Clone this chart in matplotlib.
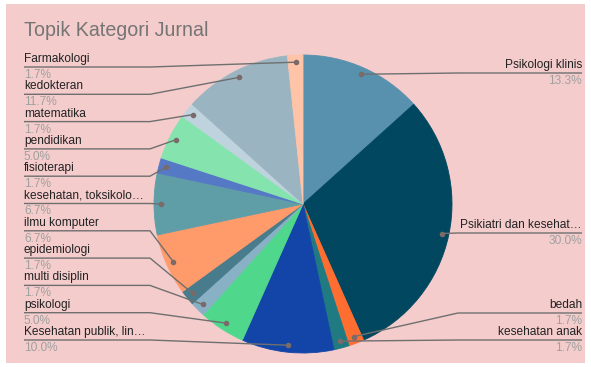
import numpy as np
import matplotlib
matplotlib.use("Agg")
import matplotlib.pyplot as plt
from matplotlib.patches import Rectangle

# slices, clockwise from 12 o'clock
labels = ["Psikologi klinis", "Psikiatri dan kesehat…", "bedah", "kesehatan anak",
          "Kesehatan publik, lin…", "psikologi", "multi disiplin", "epidemiologi",
          "ilmu komputer", "kesehatan, toksikolo…", "fisioterapi", "pendidikan",
          "matematika", "kedokteran", "Farmakologi"]
counts = [8, 18, 1, 1, 6, 3, 1, 1, 4, 4, 1, 3, 1, 7, 1]
pct_text = ["13.3%", "30.0%", "1.7%", "1.7%", "10.0%", "5.0%", "1.7%", "1.7%",
            "6.7%", "6.7%", "1.7%", "5.0%", "1.7%", "11.7%", "1.7%"]
colors = ["#5891ae", "#01475f", "#ff6d31", "#1f7a81", "#1345a9", "#4fd88b",
          "#89b1c6", "#487b8c", "#ff9a6a", "#5f9ea7", "#5679c6", "#85e4ae",
          "#bfd3de", "#9ab5c1", "#ffc4a8"]

W, H = 591, 367
fig = plt.figure(figsize=(W / 100, H / 100), dpi=100, facecolor="white")
ax = fig.add_axes([0, 0, 1, 1])

def py(y):  # pixel row -> data y
    return H - y

ax.add_patch(Rectangle((6, py(363)), 579, 359, facecolor="#f4cccc", edgecolor="none", zorder=0))

cx, cy, r = 303, 204, 149
wedges, _ = ax.pie(counts, colors=colors, startangle=90, counterclock=False,
                   center=(cx, py(cy)), radius=r, frame=True,
                   wedgeprops=dict(linewidth=0.6, antialiased=True))
for w, c in zip(wedges, colors):
    w.set_edgecolor(c)
    w.set_zorder(2)
ax.set_xlim(0, W)
ax.set_ylim(0, H)
ax.set_aspect("equal")
ax.axis("off")

ax.text(24, py(31), "Topik Kategori Jurnal", fontsize=14.1, color="#757575",
        family="Liberation Sans", va="center", ha="left")

left_idx = [14, 13, 12, 11, 10, 9, 8, 7, 6, 5, 4]
right_idx = [0, 1, 2, 3]
right_y = [73, 233, 313, 340]
left_y = [67 + 27.3 * k for k in range(len(left_idx))]

line_col = "#6f6f6f"
fs = 8.6

def dot_pos(i):
    total = sum(counts)
    mid = (sum(counts[:i]) + counts[i] / 2) / total * 2 * np.pi
    rr = r * 0.953
    return cx + rr * np.sin(mid), py(cy) + rr * np.cos(mid)

def draw_label(i, ly, side):
    dx, dy = dot_pos(i)
    if side == "left":
        xs = [24, 150, dx]
        tx, ha = 24, "left"
    else:
        xs = [582, 458, dx]
        tx, ha = 582, "right"
    ys = [py(ly), py(ly), dy]
    ax.plot(xs, ys, color=line_col, lw=1.0, zorder=4, solid_capstyle="butt")
    ax.plot(dx, dy, "o", color="#7a6a6a", ms=3, zorder=5)
    ax.text(tx, py(ly) + 5, labels[i], fontsize=fs, color="#222222",
            family="Liberation Sans", ha=ha, va="baseline", zorder=5)
    ax.text(tx, py(ly) - 11, pct_text[i], fontsize=fs, color="#a0a0a0",
            family="Liberation Sans", ha=ha, va="baseline", zorder=5)

for i, ly in zip(left_idx, left_y):
    draw_label(i, ly, "left")
for i, ly in zip(right_idx, right_y):
    draw_label(i, ly, "right")

fig.savefig("out.png", dpi=100, facecolor="white")
